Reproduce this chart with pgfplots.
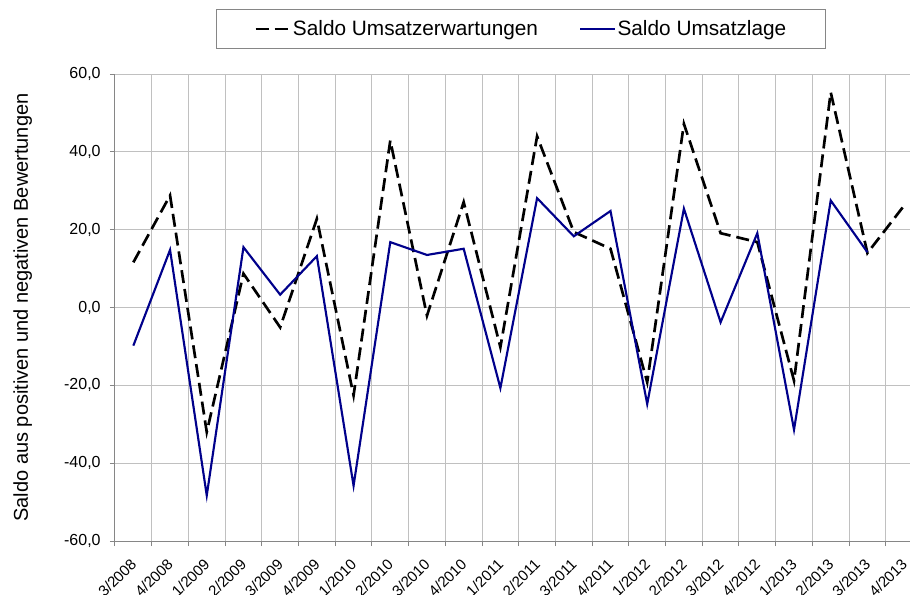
\documentclass[border=0pt]{standalone}
\usepackage{fontspec}
\setmainfont{Liberation Sans}
\usepackage{pgfplots}
\pgfplotsset{compat=1.18}
\definecolor{navyline}{RGB}{0,0,139}
\definecolor{gridc}{RGB}{192,192,192}
\definecolor{axisc}{RGB}{134,134,134}
\begin{document}
\begin{tikzpicture}
\begin{axis}[
  at={(0pt,0pt)}, anchor=south west,
  scale only axis,
  width=596.25pt, height=350.25pt,
  xmin=-0.5, xmax=21.16,
  ymin=-60, ymax=60,
  axis lines=left,
  axis line style={-, draw=axisc, line width=0.75pt},
  tick style={draw=axisc, line width=0.75pt},
  tick align=outside,
  major tick length=3.75pt,
  xtick={-0.5,0.5,...,20.5},
  xticklabels={},
  xmajorgrids,
  ytick={-60,-40,...,60},
  ymajorgrids,
  grid style={draw=gridc, line width=0.75pt},
  extra x ticks={0,1,...,21},
  extra x tick labels={3/2008,4/2008,1/2009,2/2009,3/2009,4/2009,1/2010,2/2010,3/2010,4/2010,1/2011,2/2011,3/2011,4/2011,1/2012,2/2012,3/2012,4/2012,1/2013,2/2013,3/2013,4/2013},
  extra x tick style={major tick length=0pt, grid=none,
    tick label style={rotate=45, anchor=north east, xshift=-7.3pt, yshift=-3.2pt, font=\fontsize{11.3}{13}\selectfont}},
  tick label style={font=\fontsize{12}{14}\selectfont},
  /pgf/number format/assume math mode=true,
  yticklabel style={xshift=-3.5pt, /pgf/number format/.cd, fixed, fixed zerofill, precision=1, use comma},
  ylabel={Saldo aus positiven und negativen Bewertungen},
  every axis y label/.style={at={(axis description cs:-0.116,0.5)}, rotate=90, anchor=center, font=\fontsize{15}{18}\selectfont},
  legend columns=2,
  legend image code/.code={\draw[#1] (0pt,0pt) -- (26pt,0pt);},
  legend style={at={(0.5107,1.0964)}, anchor=center, draw=axisc, line width=0.75pt,
    font=\fontsize{15.6}{18}\selectfont, inner xsep=28.6pt, inner ysep=6.2pt,
    /tikz/every even column/.append style={column sep=30pt},
    nodes={inner xsep=1pt}},
]
\addplot[black, line width=2pt, dash pattern=on 9.75pt off 4.5pt] coordinates {
(0,11.6) (1,28.8) (2,-32.0) (3,8.7) (4,-5.1) (5,22.8) (6,-22.6) (7,42.9) (8,-2.1) (9,27.1) (10,-10.2)
(11,44.0) (12,19.4) (13,15.1) (14,-19.2) (15,47.2) (16,19.1) (17,16.8) (18,-18.8) (19,55.3) (20,14.0) (21,26.2)};
\addlegendentry{Saldo Umsatzerwartungen}
\addplot[navyline, line width=1.6pt] coordinates {
(0,-9.8) (1,14.8) (2,-48.3) (3,15.5) (4,3.3) (5,13.2) (6,-45.8) (7,16.8) (8,13.5) (9,15.1) (10,-20.7)
(11,28.1) (12,18.3) (13,24.8) (14,-24.8) (15,25.4) (16,-3.8) (17,19.1) (18,-31.4) (19,27.5) (20,14.2)};
\addlegendentry{Saldo Umsatzlage}
\end{axis}
\pgfresetboundingbox
\useasboundingbox (-86.25pt,-39.75pt) rectangle (596.25pt,405.75pt);
\end{tikzpicture}
\end{document}
